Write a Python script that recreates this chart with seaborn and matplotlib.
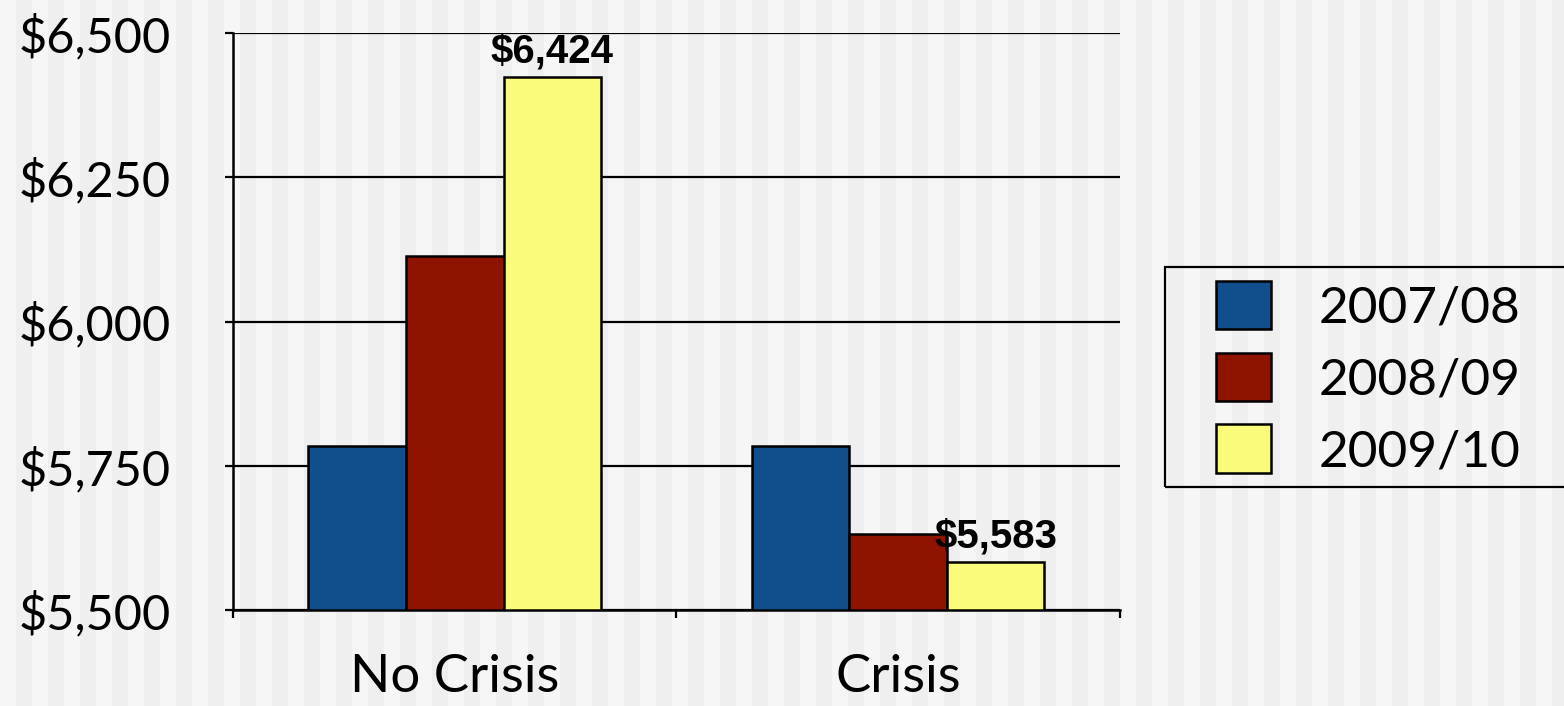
import numpy as np
import pandas as pd
import matplotlib.pyplot as plt
import seaborn as sns
from matplotlib.colors import ListedColormap
from matplotlib.patches import Rectangle

sns.set_theme(style="white")
plt.rcParams['font.family'] = ['Lato', 'DejaVu Sans']
plt.rcParams['text.color'] = 'black'
plt.rcParams['xtick.color'] = 'black'
plt.rcParams['ytick.color'] = 'black'

# data
groups = ['No Crisis', 'Crisis']
years = ['2007/08', '2008/09', '2009/10']
no_crisis = [5784, 6114, 6424]
crisis = [5785, 5632, 5583]
colors = ['#114E8C', '#8E1400', '#FBFB7B']
yticks = [5500, 5750, 6000, 6250, 6500]

df = pd.DataFrame({
    'group': [groups[0]] * 3 + [groups[1]] * 3,
    'year': years * 2,
    'value': no_crisis + crisis,
})

fig = plt.figure(figsize=(15.64, 7.06), dpi=100)

# striped background
bg = fig.add_axes([0, 0, 1, 1], zorder=-10)
stripes = (np.arange(1564) // 16) % 2
bg.imshow(stripes[None, :], aspect='auto',
          cmap=ListedColormap(['#f6f6f6', '#efefef']), extent=(0, 1, 0, 1))
bg.set_axis_off()

ax = fig.add_axes([0.149, 0.136, 0.567, 0.817])
ax.set_facecolor('none')

sns.barplot(data=df, x='group', y='value', hue='year', palette=colors,
            width=0.66, edgecolor='black', linewidth=1.8, ax=ax,
            saturation=1, legend=True)

ax.set_ylim(5500, 6500)
ax.set_xlim(-0.5, 1.5)
ax.set_yticks(yticks)
ax.set_yticklabels([f'${v:,}' for v in yticks])
ax.set_xlabel('')
ax.set_ylabel('')
ax.set_axisbelow(True)
ax.yaxis.grid(True, color='black', linewidth=1.6)

for side in ['top', 'right']:
    ax.spines[side].set_visible(False)
for side in ['left', 'bottom']:
    ax.spines[side].set_color('black')
    ax.spines[side].set_linewidth(1.8)

ax.tick_params(axis='y', direction='out', length=6, width=1.6,
               labelsize=35, pad=39, left=True)
ax.tick_params(axis='x', which='major', length=0, labelsize=38, pad=32)
ax.set_xticks([-0.5, 0.5, 1.5], minor=True)
ax.tick_params(axis='x', which='minor', direction='out', length=6, width=1.6,
               bottom=True)

# value labels on the 2009/10 bars
last = ax.containers[-1]
ax.bar_label(last, labels=[f'${int(v):,}' for v in last.datavalues], padding=5,
             fontsize=29, fontweight='bold', family='Liberation Sans',
             color='black')

handles, labels = ax.get_legend_handles_labels()
ax.get_legend().remove()
leg = fig.legend(handles, labels, loc='upper left',
                 bbox_to_anchor=(1216 / 1564, 1 - 281 / 706),
                 fontsize=37, frameon=False,
                 handlelength=1.07, handleheight=1.07, handletextpad=0.93,
                 labelspacing=0.41, borderpad=0, borderaxespad=0)
for h in leg.legend_handles:
    h.set_edgecolor('black')

# legend box
fig.patches.append(Rectangle((1165 / 1564, 1 - 487 / 706), 0.3, 220 / 706,
                             transform=fig.transFigure, fill=False,
                             edgecolor='black', linewidth=1.6))

fig.savefig('out.png', dpi=100)
